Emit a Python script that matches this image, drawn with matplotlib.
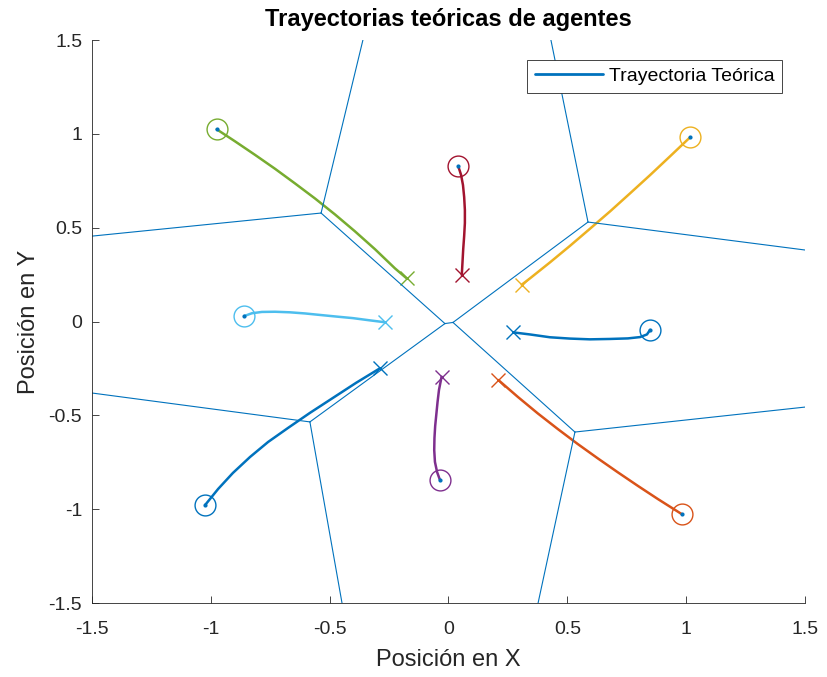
import matplotlib
matplotlib.use("Agg")
import matplotlib.pyplot as plt

plt.rcParams["font.family"] = ["Liberation Sans", "DejaVu Sans"]

# MATLAB default color order, cycled for 8 agents
COLORS = ["#0072BD", "#D95319", "#EDB120", "#7E2F8E",
          "#77AC30", "#4DBEEE", "#A2142F", "#0072BD"]

# sampled theoretical trajectories, first point = start position
traj_x = [
    [-1.024, -0.969, -0.907, -0.835, -0.759, -0.675, -0.583, -0.486, -0.389, -0.288],
    [0.981, 0.881, 0.797, 0.713, 0.629, 0.544, 0.460, 0.376, 0.292, 0.210],
    [1.016, 0.932, 0.848, 0.764, 0.680, 0.595, 0.511, 0.427, 0.343, 0.308],
    [-0.036, -0.048, -0.057, -0.060, -0.059, -0.056, -0.051, -0.046, -0.040, -0.029],
    [-0.975, -0.898, -0.814, -0.730, -0.646, -0.562, -0.478, -0.394, -0.309, -0.225, -0.176],
    [-0.860, -0.827, -0.785, -0.730, -0.667, -0.604, -0.541, -0.469, -0.402, -0.330, -0.267],
    [0.041, 0.053, 0.061, 0.066, 0.069, 0.069, 0.066, 0.062, 0.059, 0.056],
    [0.848, 0.835, 0.806, 0.755, 0.679, 0.595, 0.511, 0.427, 0.343, 0.273],
]
traj_y = [
    [-0.978, -0.892, -0.807, -0.722, -0.642, -0.567, -0.487, -0.407, -0.327, -0.249],
    [-1.026, -0.946, -0.876, -0.804, -0.730, -0.653, -0.573, -0.490, -0.402, -0.312],
    [0.981, 0.880, 0.780, 0.683, 0.587, 0.494, 0.403, 0.315, 0.230, 0.196],
    [-0.844, -0.802, -0.748, -0.685, -0.621, -0.557, -0.493, -0.429, -0.365, -0.294],
    [1.024, 0.960, 0.888, 0.814, 0.736, 0.656, 0.571, 0.481, 0.385, 0.283, 0.230],
    [0.029, 0.044, 0.051, 0.052, 0.049, 0.043, 0.035, 0.026, 0.018, 0.006, -0.004],
    [0.828, 0.781, 0.727, 0.663, 0.594, 0.525, 0.456, 0.386, 0.317, 0.248],
    [-0.045, -0.069, -0.083, -0.090, -0.093, -0.095, -0.091, -0.084, -0.069, -0.058],
]

# Voronoi edges of the initial positions (x0, x1, y0, y1)
vor_edges = [
    (-0.015, 0.019, -0.011, -0.005),
    (-0.536, -0.015, 0.578, -0.011),
    (-0.536, -1.5, 0.578, 0.455),
    (-0.536, -0.36, 0.578, 1.5),
    (0.587, 0.019, 0.530, -0.005),
    (0.587, 0.431, 0.530, 1.5),
    (0.587, 1.5, 0.530, 0.381),
    (-0.583, -0.015, -0.535, -0.011),
    (-0.583, -1.5, -0.535, -0.381),
    (-0.583, -0.448, -0.535, -1.5),
    (0.532, 0.019, -0.589, -0.005),
    (0.532, 1.5, -0.589, -0.456),
    (0.532, 0.377, -0.589, -1.5),
]

fig = plt.figure(figsize=(8.27, 6.77), dpi=100)
ax = fig.add_axes([0.1112, 0.1093, 0.8622, 0.8316])

leg_handle = None
for i, (xs, ys) in enumerate(zip(traj_x, traj_y)):
    c = COLORS[i]
    ln, = ax.plot(xs, ys, color=c, lw=1.8, solid_capstyle="round",
                  solid_joinstyle="round")
    if i == 0:
        leg_handle = ln
    ax.plot(xs[0], ys[0], "o", mfc="none", mec=c, ms=15, mew=1.0)
    ax.plot(xs[-1], ys[-1], "x", color=c, ms=9.5, mew=1.0)

for x0, x1, y0, y1 in vor_edges:
    ax.plot([x0, x1], [y0, y1], color="#0072BD", lw=0.8)

# generator points of the Voronoi diagram
ax.plot([t[0] for t in traj_x], [t[0] for t in traj_y], ".",
        color="#0072BD", ms=4)

ax.set_xlim(-1.5, 1.5)
ax.set_ylim(-1.5, 1.5)
ticks = [-1.5, -1, -0.5, 0, 0.5, 1, 1.5]
labels = ["-1.5", "-1", "-0.5", "0", "0.5", "1", "1.5"]
ax.set_xticks(ticks, labels)
ax.set_yticks(ticks, labels)
ax.tick_params(direction="in", length=5, width=0.6, colors="#262626",
               labelsize=14)
ax.tick_params(axis="x", pad=13)
ax.tick_params(axis="y", pad=7)
for s in ("top", "right"):
    ax.spines[s].set_visible(False)
for s in ("left", "bottom"):
    ax.spines[s].set_color("#262626")
    ax.spines[s].set_linewidth(0.6)

ax.set_xlabel("Posición en X", fontsize=17, color="#262626", labelpad=8)
ax.set_ylabel("Posición en Y", fontsize=17, color="#262626", labelpad=6)
ax.set_title("Trayectorias teóricas de agentes", fontsize=17,
             fontweight="bold", color="black", pad=10)

leg = ax.legend([leg_handle], ["Trayectoria Teórica"], loc="upper right",
                bbox_to_anchor=(0.968, 0.965), borderaxespad=0,
                fontsize=14, handlelength=3.5, fancybox=False,
                framealpha=1, borderpad=0.4, handletextpad=0.3)
leg.get_frame().set_edgecolor("#262626")
leg.get_frame().set_linewidth(0.6)
leg.get_lines()[0].set_color("#0072BD")
leg.get_lines()[0].set_linewidth(2)

fig.savefig("out.png", dpi=100)
